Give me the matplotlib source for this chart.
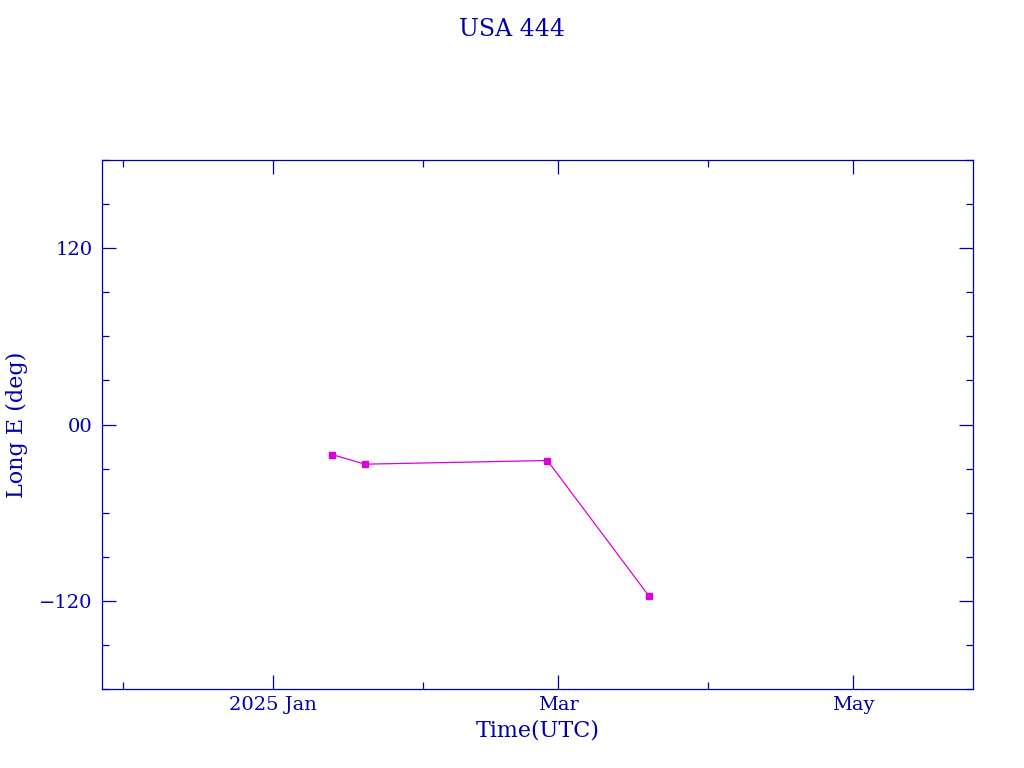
import numpy as np
import matplotlib
matplotlib.use("Agg")
from matplotlib import pyplot as plt
import matplotlib.dates as mdates
from matplotlib.ticker import FixedLocator, MultipleLocator, FuncFormatter
from datetime import datetime

# data
dates = ["2025-01-13T06:00", "2025-01-20T00:00", "2025-02-26T18:00", "2025-03-19T20:00"]
long_e = [-20.5, -27.0, -24.5, -117.0]

major_dates = ["2025-01-01", "2025-03-01", "2025-05-01"]
major_labels = ["2025 Jan", "Mar", "May"]
minor_dates = ["2024-12-01", "2025-02-01", "2025-04-01"]

AXC = "#0000aa"
LINEC = "#dd00dd"
plt.rcParams["font.family"] = ["DejaVu Serif"]

x = [datetime.fromisoformat(d) for d in dates]

fig = plt.figure(figsize=(10.24, 7.68), dpi=100)
ax = fig.add_axes([102 / 1024, 1 - 689 / 768, 871 / 1024, 529 / 768])

ax.plot(x, long_e, color=LINEC, lw=0.9, marker="s", ms=4,
        mfc=LINEC, mec=LINEC)

ax.set_xlim(datetime(2024, 11, 26, 14), datetime(2025, 5, 25, 20))
ax.set_ylim(-180, 180)

ax.xaxis.set_major_locator(FixedLocator([mdates.date2num(datetime.fromisoformat(d)) for d in major_dates]))
ax.xaxis.set_minor_locator(FixedLocator([mdates.date2num(datetime.fromisoformat(d)) for d in minor_dates]))
ax.set_xticklabels(major_labels)

ax.yaxis.set_major_locator(FixedLocator([-120, 0, 120]))
ax.yaxis.set_minor_locator(MultipleLocator(30))

def ylab(v, pos):
    if v == 0:
        return "00"
    return ("\u2212%d" % abs(v)) if v < 0 else "%d" % v
ax.yaxis.set_major_formatter(FuncFormatter(ylab))

for s in ax.spines.values():
    s.set_color(AXC)
    s.set_linewidth(0.9)
ax.tick_params(which="both", direction="in", top=True, right=True,
               colors=AXC, labelcolor=AXC, labelsize=14, width=0.9)
ax.tick_params(which="major", length=10, pad=7)
ax.tick_params(axis="x", which="major", pad=5)
ax.tick_params(which="minor", length=5)

ax.set_xlabel("Time(UTC)", color=AXC, fontsize=16, labelpad=4)
ax.set_ylabel("Long E (deg)", color=AXC, fontsize=16, labelpad=8)
fig.text(0.5, 1 - 30 / 768, "USA 444", color=AXC, fontsize=17,
         ha="center", va="center")

fig.savefig("out.png", dpi=100)
